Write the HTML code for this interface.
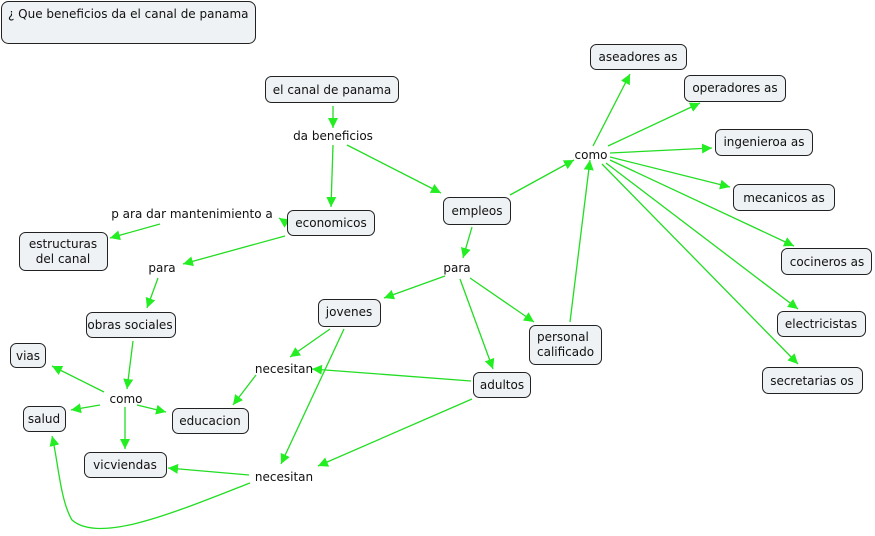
<!DOCTYPE html>
<html><head><meta charset="utf-8"><style>
body{margin:0;background:#fff}
svg{display:block}
text{font-family:"DejaVu Sans","Liberation Sans",sans-serif;font-size:12px;fill:#111}
.n{fill:#eef2f4;stroke:#222;stroke-width:1}
.l{stroke:#22dd22;stroke-width:1.3;fill:none}
</style></head><body>
<svg width="875" height="536" viewBox="0 0 875 536" xmlns="http://www.w3.org/2000/svg">
<defs><marker id="a" viewBox="0 0 10 10" refX="10" refY="5" markerWidth="10" markerHeight="10" markerUnits="userSpaceOnUse" orient="auto"><path d="M0,0L10,5L0,10z" fill="#22ee22"/></marker></defs>
<g class="l" marker-end="url(#a)">
<line x1="333" y1="106" x2="333" y2="128"/>
<line x1="333" y1="145" x2="331" y2="207"/>
<line x1="347" y1="145" x2="441" y2="193"/>
<line x1="285" y1="222" x2="279" y2="218"/>
<line x1="160" y1="224" x2="110" y2="238"/>
<line x1="285" y1="236" x2="183" y2="264"/>
<line x1="158" y1="278" x2="147" y2="308"/>
<line x1="133" y1="341" x2="127" y2="389"/>
<line x1="104" y1="392" x2="52" y2="366"/>
<line x1="100" y1="405" x2="71" y2="410"/>
<line x1="137" y1="405" x2="166" y2="412"/>
<line x1="125" y1="407" x2="125" y2="449"/>
<line x1="510" y1="195" x2="574" y2="160"/>
<line x1="472" y1="227" x2="463" y2="258"/>
<line x1="445" y1="276" x2="384" y2="298"/>
<line x1="460" y1="279" x2="493" y2="369"/>
<line x1="470" y1="278" x2="534" y2="322"/>
<line x1="570" y1="322" x2="590" y2="160"/>
<line x1="593" y1="146" x2="630" y2="74"/>
<line x1="608" y1="146" x2="700" y2="103"/>
<line x1="610" y1="153" x2="712" y2="148"/>
<line x1="610" y1="157" x2="730" y2="187"/>
<line x1="610" y1="160" x2="794" y2="246"/>
<line x1="606" y1="163" x2="798" y2="309"/>
<line x1="602" y1="164" x2="798" y2="364"/>
<line x1="330" y1="329" x2="290" y2="357"/>
<line x1="471" y1="381" x2="312" y2="369"/>
<line x1="256" y1="375" x2="233" y2="405"/>
<line x1="344" y1="329" x2="281" y2="464"/>
<line x1="472" y1="399" x2="318" y2="466"/>
<line x1="249" y1="475" x2="168" y2="468"/>
<path d="M250,483 C180,510 100,545 72,520 C60,500 58,460 52,436"/>
</g>
<rect class="n" x="1.5" y="1.5" width="254" height="42" rx="7"/>
<text x="8" y="18">¿ Que beneficios da el canal de panama</text>
<rect class="n" x="265.5" y="76.5" width="133" height="26" rx="6"/><text x="332" y="94" text-anchor="middle">el canal de panama</text>
<rect class="n" x="287.5" y="210.5" width="87" height="25" rx="6"/><text x="331" y="227" text-anchor="middle">economicos</text>
<rect class="n" x="19.5" y="232.5" width="88" height="38" rx="6"/><text x="63" y="248" text-anchor="middle">estructuras</text><text x="63" y="263" text-anchor="middle">del canal</text>
<rect class="n" x="86.5" y="312.5" width="89" height="25" rx="6"/><text x="130" y="329" text-anchor="middle">obras sociales</text>
<rect class="n" x="10.5" y="343.5" width="35" height="24" rx="6"/><text x="28" y="360" text-anchor="middle">vias</text>
<rect class="n" x="23.5" y="406.5" width="42" height="25" rx="6"/><text x="44" y="423" text-anchor="middle">salud</text>
<rect class="n" x="172.5" y="408.5" width="76" height="25" rx="6"/><text x="210" y="425" text-anchor="middle">educacion</text>
<rect class="n" x="84.5" y="452.5" width="82" height="25" rx="6"/><text x="125" y="469" text-anchor="middle">vicviendas</text>
<rect class="n" x="318.5" y="299.5" width="62" height="27" rx="6"/><text x="349" y="316" text-anchor="middle">jovenes</text>
<rect class="n" x="473.5" y="372.5" width="57" height="25" rx="6"/><text x="502" y="389" text-anchor="middle">adultos</text>
<rect class="n" x="443.5" y="197.5" width="67" height="27" rx="6"/><text x="477" y="215" text-anchor="middle">empleos</text>
<rect class="n" x="529.5" y="325.5" width="72" height="39" rx="6"/><text x="537" y="341">personal</text><text x="537" y="356">calificado</text>
<rect class="n" x="590.5" y="44.5" width="96" height="25" rx="6"/><text x="638" y="61" text-anchor="middle">aseadores as</text>
<rect class="n" x="684.5" y="75.5" width="101" height="26" rx="6"/><text x="735" y="92" text-anchor="middle">operadores as</text>
<rect class="n" x="715.5" y="129.5" width="97" height="26" rx="6"/><text x="764" y="146" text-anchor="middle">ingenieroa as</text>
<rect class="n" x="733.5" y="184.5" width="101" height="26" rx="6"/><text x="784" y="202" text-anchor="middle">mecanicos as</text>
<rect class="n" x="781.5" y="248.5" width="90" height="26" rx="6"/><text x="827" y="266" text-anchor="middle">cocineros as</text>
<rect class="n" x="777.5" y="311.5" width="88" height="25" rx="6"/><text x="821" y="328" text-anchor="middle">electricistas</text>
<rect class="n" x="762.5" y="367.5" width="100" height="26" rx="6"/><text x="812" y="385" text-anchor="middle">secretarias os</text>
<text x="333" y="140" text-anchor="middle">da beneficios</text>
<text x="192" y="218" text-anchor="middle">p ara dar mantenimiento a</text>
<text x="162" y="272" text-anchor="middle">para</text>
<text x="126" y="403" text-anchor="middle">como</text>
<text x="284" y="373" text-anchor="middle">necesitan</text>
<text x="284" y="481" text-anchor="middle">necesitan</text>
<text x="457" y="272" text-anchor="middle">para</text>
<text x="591" y="159" text-anchor="middle">como</text>
</svg>
</body></html>
